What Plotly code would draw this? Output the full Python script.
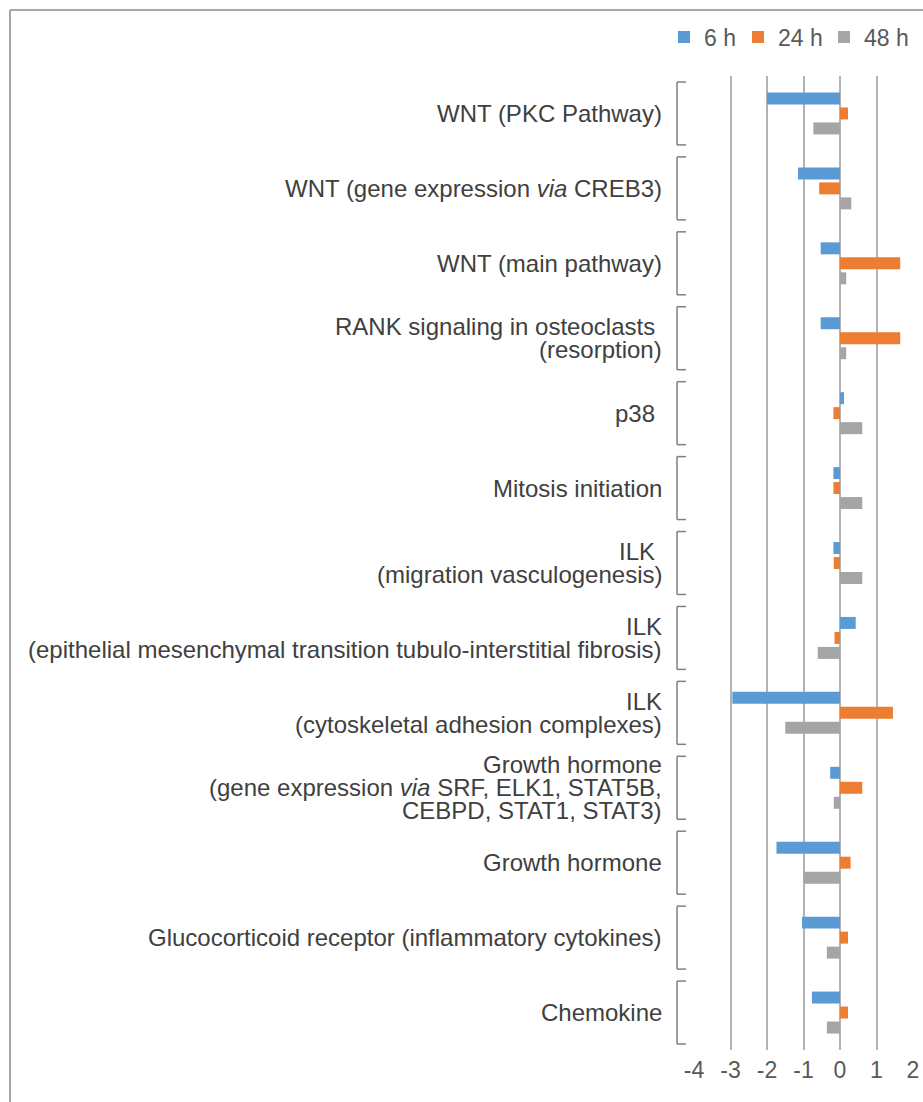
import plotly.graph_objects as go

# ---- data ----
categories = [
    "WNT (PKC Pathway)",
    "WNT (gene expression via CREB3)",
    "WNT (main pathway)",
    "RANK signaling in osteoclasts \n(resorption)",
    "p38 ",
    "Mitosis initiation",
    "ILK \n(migration vasculogenesis)",
    "ILK\n(epithelial mesenchymal transition tubulo-interstitial fibrosis)",
    "ILK\n(cytoskeletal adhesion complexes)",
    "Growth hormone\n(gene expression via SRF, ELK1, STAT5B,\nCEBPD, STAT1, STAT3)",
    "Growth hormone",
    "Glucocorticoid receptor (inflammatory cytokines)",
    "Chemokine",
]
series_names = ["6 h", "24 h", "48 h"]
values_6h = [-2.0, -1.15, -0.53, -0.53, 0.11, -0.18, -0.18, 0.43, -2.95, -0.27, -1.74, -1.04, -0.77]
values_24h = [0.22, -0.57, 1.65, 1.65, -0.18, -0.18, -0.17, -0.15, 1.45, 0.61, 0.29, 0.22, 0.22]
values_48h = [-0.73, 0.31, 0.17, 0.17, 0.61, 0.61, 0.61, -0.61, -1.5, -0.17, -1.0, -0.36, -0.36]
x_tickvals = [-4, -3, -2, -1, 0, 1, 2]
x_ticktext = ["-4", "-3", "-2", "-1", "0", "1", "2"]

# ---- style ----
colors = ["#5b9bd5", "#ed7d31", "#a5a5a5"]
legend_widths = [29, 41, 45]
FONT = "Liberation Sans, Arial, sans-serif"
W, H = 923, 1102
ML, MR, MT, MB = 694, 10, 76, 52
PW, PH = W - ML - MR, H - MT - MB

cat_keys = [c.replace("\n", " ").strip() for c in categories]

fig = go.Figure()
for name, vals, col, lw in zip(series_names, [values_6h, values_24h, values_48h], colors, legend_widths):
    fig.add_trace(go.Bar(
        y=cat_keys, x=vals, orientation="h", name=name,
        marker=dict(color=col, line=dict(width=0)),
        legendwidth=lw,
    ))

def px_x(p):
    return (p - ML) / PW

def px_y(p):
    return 1 - (p - MT) / PH

annotations = []
shapes = []
line_gap = 23
for i, cat in enumerate(categories):
    lines = cat.split("\n")
    n = len(lines)
    for k, ln in enumerate(lines):
        txt = ln.replace("via", "<i>via</i>")
        if ln.endswith(" "):
            txt = txt.rstrip() + "\u00a0"
        annotations.append(dict(
            text=txt, xref="paper", yref="y", x=0, y=i,
            xanchor="right", yanchor="middle", xshift=-31,
            yshift=((n - 1) / 2 - k) * line_gap,
            showarrow=False, align="right", borderpad=0,
            font=dict(family=FONT, size=24, color="#404040"),
        ))
    # bracket
    xb0, xb1 = px_x(677), px_x(686)
    y0, y1 = i - 0.42, i + 0.42
    bl = dict(color="#808080", width=1.5)
    shapes.append(dict(type="line", xref="paper", yref="y", x0=xb0, x1=xb0, y0=y0, y1=y1, line=bl))
    shapes.append(dict(type="line", xref="paper", yref="y", x0=xb0, x1=xb1, y0=y0, y1=y0, line=bl))
    shapes.append(dict(type="line", xref="paper", yref="y", x0=xb0, x1=xb1, y0=y1, y1=y1, line=bl))

# outer frame (top and left edges)
frame = dict(color="#a6a6a6", width=2)
shapes.append(dict(type="line", xref="paper", yref="paper",
                   x0=px_x(10), x1=px_x(930), y0=px_y(10), y1=px_y(10), line=frame))
shapes.append(dict(type="line", xref="paper", yref="paper",
                   x0=px_x(10), x1=px_x(10), y0=px_y(10), y1=px_y(1110), line=frame))

fig.update_layout(
    template="none",
    width=W, height=H,
    margin=dict(l=ML, r=MR, t=MT, b=MB, pad=0, autoexpand=False),
    paper_bgcolor="white", plot_bgcolor="white",
    barmode="group", bargap=0.4, bargroupgap=0.2,
    showlegend=True,
    legend=dict(
        orientation="h", x=px_x(664), xanchor="left", y=px_y(37), yanchor="middle",
        font=dict(family=FONT, size=23, color="#595959"),
        traceorder="normal", bgcolor="rgba(0,0,0,0)", borderwidth=0,
    ),
    xaxis=dict(
        range=[-4, 2], tickvals=x_tickvals, ticktext=x_ticktext,
        showgrid=True, gridcolor="#b3b3b3", gridwidth=2,
        zeroline=False, showline=False, ticks="", automargin=False,
        ticklabelstandoff=4,
        tickfont=dict(family=FONT, size=23, color="#595959"),
        fixedrange=True,
    ),
    yaxis=dict(
        categoryorder="array", categoryarray=cat_keys,
        range=[len(cat_keys) - 0.5, -0.5], automargin=False, fixedrange=True,
        showticklabels=False, showgrid=False, zeroline=False, showline=False, ticks="",
    ),
    annotations=annotations,
    shapes=shapes,
)

fig.write_html(
    "out.html",
    config={"displayModeBar": False},
    post_script="document.body.style.margin='0px';",
)
